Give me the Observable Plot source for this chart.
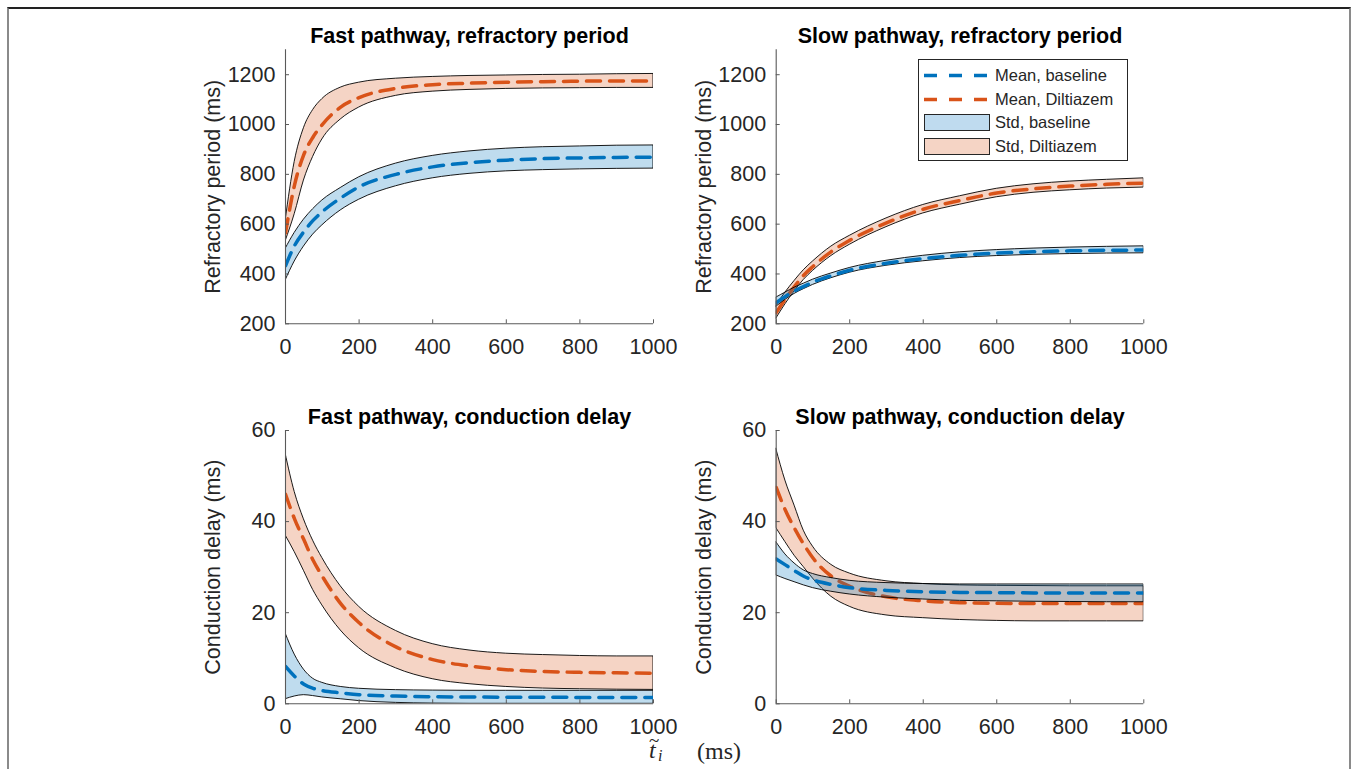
<!DOCTYPE html>
<html><head><meta charset="utf-8">
<script src="https://cdn.jsdelivr.net/npm/d3@7"></script>
<script src="https://cdn.jsdelivr.net/npm/@observablehq/plot@0.6"></script>
<style>
html,body{margin:0;padding:0;background:#fff;}
#wrap{position:relative;width:1360px;height:769px;overflow:hidden;background:#fff;font-family:"Liberation Sans",Arial,sans-serif;color:#262626;}
.panel{position:absolute;}
#frame{position:absolute;left:7px;top:7px;width:1340px;height:800px;border-top:2px solid #222;border-left:2px solid #8a8a8a;border-right:2px solid #8a8a8a;}
#legend{position:absolute;left:918px;top:59px;width:208px;height:100px;border:1px solid #262626;background:#fff;font-size:16.5px;}
#legend svg{position:absolute;left:0;top:0;}
#legend .lbl{position:absolute;left:76px;white-space:nowrap;line-height:1;}
#xlab{position:absolute;top:738px;left:0;width:1360px;height:31px;font-family:"Liberation Serif","Times New Roman",serif;font-size:24px;color:#262626;}
#xlab span{position:absolute;line-height:1;}
</style></head>
<body><div id="wrap">
<div id="frame"></div>
<div id="p1" class="panel" style="left:150px;top:0px"></div>
<div id="p2" class="panel" style="left:660px;top:0px"></div>
<div id="p3" class="panel" style="left:150px;top:380px"></div>
<div id="p4" class="panel" style="left:660px;top:380px"></div>
<div id="legend"></div>
<div id="xlab"></div>
</div>
<script>
// ---------- data ----------
const tGrid = [0, 25, 50, 75, 100, 150, 200, 300, 400, 500, 600, 700, 800, 900, 1000];
const xTicks = [0, 200, 400, 600, 800, 1000];
const rpTicks = [200, 400, 600, 800, 1000, 1200];
const cdTicks = [0, 20, 40, 60];
const seriesNames = ["Mean, baseline", "Mean, Diltiazem", "Std, baseline", "Std, Diltiazem"];
const panelTitles = ["Fast pathway, refractory period", "Slow pathway, refractory period", "Fast pathway, conduction delay", "Slow pathway, conduction delay"];
const yLabels = ["Refractory period (ms)", "Conduction delay (ms)"];

// Fast pathway, refractory period
const fastRP_baseMean = [433, 515, 570, 615, 650, 705, 750, 800, 830, 847, 857, 863, 866, 868, 869];
const fastRP_baseUp   = [500, 565, 618, 660, 695, 745, 788, 843, 874, 892, 903, 909, 912, 915, 916];
const fastRP_baseLo   = [373, 450, 510, 558, 595, 655, 698, 752, 784, 802, 812, 817, 820, 822, 823];
const fastRP_diltMean = [565, 760, 880, 950, 1000, 1070, 1108, 1145, 1160, 1166, 1170, 1172, 1174, 1175, 1175];
const fastRP_diltUp   = [610, 850, 985, 1058, 1102, 1148, 1168, 1184, 1191, 1195, 1197, 1199, 1200, 1202, 1203];
const fastRP_diltLo   = [530, 640, 775, 870, 940, 1020, 1068, 1115, 1132, 1139, 1143, 1145, 1146, 1147, 1147];

// Slow pathway, refractory period
const slowRP_baseMean = [285, 310, 332, 350, 367, 393, 415, 443, 462, 475, 484, 489, 493, 495, 496];
const slowRP_baseUp   = [305, 325, 345, 361, 377, 402, 424, 453, 473, 487, 496, 502, 506, 509, 511];
const slowRP_baseLo   = [268, 296, 320, 339, 356, 383, 405, 433, 451, 464, 472, 477, 480, 482, 483];
const slowRP_diltMean = [245, 300, 350, 395, 430, 490, 535, 605, 660, 695, 725, 742, 753, 760, 765];
const slowRP_diltUp   = [272, 325, 372, 415, 450, 510, 553, 623, 677, 712, 742, 760, 771, 778, 784];
const slowRP_diltLo   = [220, 278, 330, 376, 412, 472, 517, 588, 643, 678, 708, 726, 736, 743, 747];

// Fast pathway, conduction delay
const fastCD_baseMean = [8.2, 6.0, 4.3, 3.4, 2.9, 2.4, 2.0, 1.7, 1.55, 1.5, 1.45, 1.45, 1.4, 1.4, 1.4];
const fastCD_baseUp   = [15.5, 10.8, 7.5, 5.5, 4.6, 3.7, 3.3, 3.0, 2.9, 2.85, 2.85, 2.85, 2.85, 2.85, 2.85];
const fastCD_baseLo   = [1.0, 1.6, 1.9, 1.7, 1.4, 1.0, 0.6, 0.2, 0.05, 0, 0, 0, 0, 0, 0];
const fastCD_diltMean = [46, 40.5, 36, 31.5, 28, 22, 17.8, 12.5, 9.7, 8.3, 7.5, 7.1, 6.9, 6.8, 6.7];
const fastCD_diltUp   = [55, 46.5, 40.5, 35.8, 32, 25.8, 21.3, 16, 13.1, 11.7, 11.0, 10.7, 10.5, 10.4, 10.4];
const fastCD_diltLo   = [37, 33.3, 29.2, 25, 21.6, 16.1, 12.2, 7.8, 5.4, 4.3, 3.7, 3.35, 3.2, 3.1, 3.05];

// Slow pathway, conduction delay
const slowCD_baseMean = [31.8, 30.5, 29.2, 28.0, 27.2, 26.2, 25.5, 24.9, 24.6, 24.45, 24.4, 24.35, 24.3, 24.3, 24.3];
const slowCD_baseUp   = [35.5, 32.8, 30.8, 29.3, 28.5, 27.6, 27.0, 26.5, 26.3, 26.2, 26.2, 26.2, 26.2, 26.2, 26.2];
const slowCD_baseLo   = [28.2, 27.4, 26.7, 26.0, 25.4, 24.6, 24.0, 23.3, 22.9, 22.6, 22.5, 22.4, 22.35, 22.3, 22.3];
const slowCD_diltMean = [47.5, 42.5, 38.5, 35, 32, 28, 25.8, 23.5, 22.6, 22.2, 22.05, 22.0, 22.0, 22.0, 22.0];
const slowCD_diltUp   = [56, 49, 43.5, 38, 34.5, 30.5, 28.6, 26.9, 26.3, 26.0, 25.9, 25.85, 25.8, 25.8, 25.8];
const slowCD_diltLo   = [38.6, 35.5, 32.5, 30, 27.5, 23.5, 21.3, 19.4, 18.8, 18.4, 18.2, 18.1, 18.1, 18.1, 18.1];

// ---------- styling ----------
const BLUE = "#0072BD", ORANGE = "#D95319";
const BLUE_FILL = "#BFDBEF", ORANGE_FILL = "#F5D4C5";
const AX = "#262626";
const FONT = "'Liberation Sans', Arial, sans-serif";
const DASH = "14,9";

function rowsOf(bm, bu, bl, dm, du, dl) {
  return tGrid.map((x, i) => ({x, bm: bm[i], bu: bu[i], bl: bl[i], dm: dm[i], du: du[i], dl: dl[i]}));
}

function panel(id, {L, T, W, H, x0, x1, yTop, yBot, yDomain, yTicks, title, ylabel, rows}) {
  const curve = "monotone-x";
  const fmt = d => String(d);
  const chart = Plot.plot({
    width: W, height: H,
    marginLeft: x0 - L, marginRight: L + W - x1,
    marginTop: yTop - T, marginBottom: T + H - yBot,
    x: {domain: [0, 1000]},
    y: {domain: yDomain},
    style: {background: "none", fontFamily: FONT, fontSize: "21.5px", color: AX, overflow: "visible"},
    marks: [
      Plot.areaY(rows, {x: "x", y1: "dl", y2: "du", fill: ORANGE, fillOpacity: 0.25, stroke: "#000", strokeWidth: 0.9, curve, clip: true}),
      Plot.lineY(rows, {x: "x", y: "dm", stroke: ORANGE, strokeWidth: 3.5, strokeDasharray: DASH, curve, clip: true}),
      Plot.areaY(rows, {x: "x", y1: "bl", y2: "bu", fill: BLUE, fillOpacity: 0.25, stroke: "#000", strokeWidth: 0.9, curve, clip: true}),
      Plot.lineY(rows, {x: "x", y: "bm", stroke: BLUE, strokeWidth: 3.5, strokeDasharray: DASH, curve, clip: true}),
      Plot.ruleX([0], {stroke: "#5a5a5a", strokeWidth: 1.1}),
      Plot.ruleY([yDomain[0]], {stroke: "#5a5a5a", strokeWidth: 1.1}),
      Plot.axisX({ticks: xTicks, tickFormat: fmt, tickSize: -4, tickPadding: 19, label: null, stroke: "#5a5a5a", fill: AX}),
      Plot.axisY({ticks: yTicks, tickFormat: fmt, tickSize: -4, tickPadding: 14, label: null, stroke: "#5a5a5a", fill: AX}),
      Plot.text([title], {text: d => d, frameAnchor: "top", lineAnchor: "bottom", dy: -7, fontWeight: "bold", fontSize: 21.5, fill: "#000"}),
      Plot.text([ylabel], {text: d => d, frameAnchor: "left", textAnchor: "middle", rotate: -90, dx: -72, lineAnchor: "middle", fontSize: 21.5, fill: AX})
    ]
  });
  document.getElementById(id).appendChild(chart);
}

panel("p1", {L: 150, T: 0, W: 560, H: 380, x0: 285, x1: 653, yTop: 49.3, yBot: 323.3, yDomain: [200, 1300], yTicks: rpTicks,
  title: panelTitles[0], ylabel: yLabels[0],
  rows: rowsOf(fastRP_baseMean, fastRP_baseUp, fastRP_baseLo, fastRP_diltMean, fastRP_diltUp, fastRP_diltLo)});
panel("p2", {L: 660, T: 0, W: 540, H: 380, x0: 775.7, x1: 1143.3, yTop: 49.3, yBot: 323.3, yDomain: [200, 1300], yTicks: rpTicks,
  title: panelTitles[1], ylabel: yLabels[0],
  rows: rowsOf(slowRP_baseMean, slowRP_baseUp, slowRP_baseLo, slowRP_diltMean, slowRP_diltUp, slowRP_diltLo)});
panel("p3", {L: 150, T: 380, W: 560, H: 389, x0: 285, x1: 653, yTop: 430, yBot: 703.3, yDomain: [0, 60], yTicks: cdTicks,
  title: panelTitles[2], ylabel: yLabels[1],
  rows: rowsOf(fastCD_baseMean, fastCD_baseUp, fastCD_baseLo, fastCD_diltMean, fastCD_diltUp, fastCD_diltLo)});
panel("p4", {L: 660, T: 380, W: 540, H: 389, x0: 775.7, x1: 1143.3, yTop: 430, yBot: 703.3, yDomain: [0, 60], yTicks: cdTicks,
  title: panelTitles[3], ylabel: yLabels[1],
  rows: rowsOf(slowCD_baseMean, slowCD_baseUp, slowCD_baseLo, slowCD_diltMean, slowCD_diltUp, slowCD_diltLo)});

// ---------- legend ----------
(function legend() {
  const lg = document.getElementById("legend");
  const ns = "http://www.w3.org/2000/svg";
  const svg = document.createElementNS(ns, "svg");
  svg.setAttribute("width", 208); svg.setAttribute("height", 100);
  const rowsY = [15.5, 39.5, 62.5, 86.5];
  const items = [
    {kind: "line", color: BLUE},
    {kind: "line", color: ORANGE},
    {kind: "patch", fill: BLUE_FILL},
    {kind: "patch", fill: ORANGE_FILL}
  ];
  items.forEach((it, i) => {
    const y = rowsY[i];
    if (it.kind === "line") {
      const l = document.createElementNS(ns, "line");
      l.setAttribute("x1", 5); l.setAttribute("x2", 70);
      l.setAttribute("y1", y); l.setAttribute("y2", y);
      l.setAttribute("stroke", it.color); l.setAttribute("stroke-width", 3.5);
      l.setAttribute("stroke-dasharray", "13,12");
      svg.appendChild(l);
    } else {
      const r = document.createElementNS(ns, "rect");
      r.setAttribute("x", 5.5); r.setAttribute("y", y - 8);
      r.setAttribute("width", 65); r.setAttribute("height", 16);
      r.setAttribute("fill", it.fill); r.setAttribute("stroke", "#262626"); r.setAttribute("stroke-width", 1);
      svg.appendChild(r);
    }
    const s = document.createElement("div");
    s.className = "lbl";
    s.style.top = (y - 9) + "px";
    s.textContent = seriesNames[i];
    lg.appendChild(s);
  });
  lg.insertBefore(svg, lg.firstChild);
})();

// ---------- shared x label ----------
document.getElementById("xlab").innerHTML =
  '<span style="left:649px;top:0px;font-style:italic">t</span>' +
  '<span style="left:649px;top:-7px;font-size:19px">~</span>' +
  '<span style="left:658px;top:10px;font-style:italic;font-size:16px">i</span>' +
  '<span style="left:697px;top:1px">(ms)</span>';
</script>
</body></html>
